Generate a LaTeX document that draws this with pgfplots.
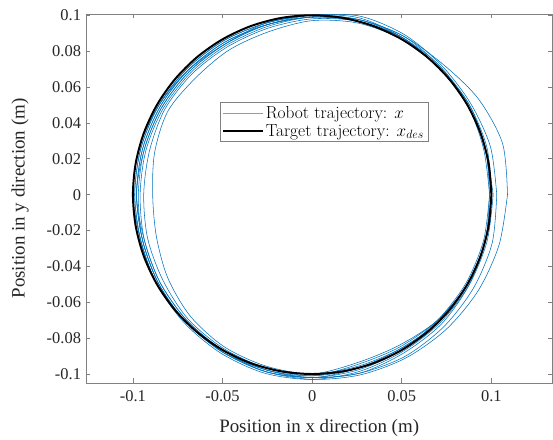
\documentclass[border=0pt]{standalone}
\usepackage{pgfplots}
\pgfplotsset{compat=1.18}
\usepgfplotslibrary{polar}
\usepackage{fontspec}
\newfontfamily\tnr{Liberation Serif}
\definecolor{mblue}{rgb}{0,0.447,0.741}
\definecolor{axgray}{rgb}{0.5,0.5,0.5}
\definecolor{txtgray}{rgb}{0.15,0.15,0.15}
\begin{document}
\begin{tikzpicture}
\begin{axis}[
  name=ax,
  scale only axis, width=466.3bp, height=369bp,
  xmin=-0.1262, xmax=0.134, ymin=-0.105, ymax=0.1007,
  xtick={-0.1,-0.05,0,0.05,0.1},
  xticklabels={-0.1,-0.05,0,0.05,0.1},
  ytick={-0.1,-0.08,-0.06,-0.04,-0.02,0,0.02,0.04,0.06,0.08,0.1},
  yticklabels={-0.1,-0.08,-0.06,-0.04,-0.02,0,0.02,0.04,0.06,0.08,0.1},
  tick align=inside, xtick pos=both, ytick pos=both,
  major tick length=4.5bp,
  axis line style={axgray, line width=0.6bp}, every tick/.style={axgray, line width=0.6bp},
  tick label style={font=\tnr\fontsize{16.5}{16.5}\selectfont, text=txtgray},
  xticklabel style={yshift=-4bp},
  yticklabel style={xshift=-1.5bp},
  label style={font=\tnr\fontsize{19}{19}\selectfont, text=txtgray},
  xlabel={Position in x direction (m)},
  ylabel={Position in y direction (m)},
  xlabel style={at={(axis description cs:0.5,-0.122)}, anchor=center},
  ylabel style={at={(axis description cs:-0.1413,0.5)}, anchor=center},
  legend style={at={(0.51,0.707)}, anchor=center, draw=axgray,
    font=\fontsize{17.5}{18}\selectfont, inner sep=2pt},
  legend cell align=left,
  legend image post style={xscale=2.35},
]
\addlegendimage{color=mblue!60, line width=0.9pt}
\addlegendentry{Robot trajectory: $x$}
\addlegendimage{color=black, line width=2pt}
\addlegendentry{Target trajectory: $x_{des}$}
% Robot trajectory loops (angle in degrees, radius in m)
\addplot[mblue, line width=0.55pt, smooth, data cs=polar, forget plot] coordinates {
(0,0.109)(15,0.110)(30,0.107)(45,0.103)(60,0.102)(75,0.101)(90,0.099)(105,0.098)(120,0.098)(135,0.098)(150,0.098)(165,0.098)(180,0.098)(195,0.098)(210,0.099)(225,0.100)(240,0.101)(255,0.102)(270,0.103)(285,0.104)(300,0.105)(315,0.106)(330,0.107)(345,0.108)(360,0.109)};
\addplot[mblue, line width=0.55pt, smooth, data cs=polar, forget plot] coordinates {
(0,0.103)(15,0.103)(30,0.102)(45,0.102)(60,0.103)(75,0.103)(90,0.100)(105,0.099)(120,0.099)(135,0.099)(150,0.099)(165,0.099)(180,0.099)(195,0.099)(210,0.100)(225,0.100)(240,0.101)(255,0.102)(270,0.102)(285,0.103)(300,0.104)(315,0.104)(330,0.104)(345,0.104)(360,0.103)};
\addplot[mblue, line width=0.55pt, smooth, data cs=polar, forget plot] coordinates {
(0,0.100)(15,0.100)(30,0.100)(45,0.100)(60,0.100)(75,0.099)(90,0.097)(105,0.094)(120,0.093)(135,0.092)(150,0.093)(165,0.091)(180,0.089)(195,0.090)(210,0.093)(225,0.096)(240,0.098)(255,0.099)(270,0.100)(285,0.099)(300,0.099)(315,0.100)(330,0.100)(345,0.100)(360,0.100)};
\addplot[mblue, line width=0.55pt, smooth, data cs=polar, forget plot] coordinates {
(0,0.100)(15,0.100)(30,0.100)(45,0.101)(60,0.101)(75,0.100)(90,0.098)(105,0.096)(120,0.095)(135,0.095)(150,0.095)(165,0.094)(180,0.094)(195,0.095)(210,0.096)(225,0.098)(240,0.099)(255,0.100)(270,0.101)(285,0.100)(300,0.100)(315,0.100)(330,0.100)(345,0.100)(360,0.100)};
\addplot[mblue, line width=0.55pt, smooth, data cs=polar, forget plot] coordinates {
(0,0.099)(15,0.099)(30,0.100)(45,0.100)(60,0.100)(75,0.100)(90,0.099)(105,0.097)(120,0.096)(135,0.096)(150,0.096)(165,0.096)(180,0.096)(195,0.097)(210,0.098)(225,0.099)(240,0.100)(255,0.102)(270,0.102)(285,0.101)(300,0.100)(315,0.099)(330,0.099)(345,0.099)(360,0.099)};
\addplot[mblue, line width=0.55pt, smooth, data cs=polar, forget plot] coordinates {
(0,0.100)(15,0.101)(30,0.101)(45,0.101)(60,0.102)(75,0.101)(90,0.099)(105,0.098)(120,0.097)(135,0.097)(150,0.097)(165,0.097)(180,0.097)(195,0.098)(210,0.099)(225,0.100)(240,0.101)(255,0.101)(270,0.101)(285,0.098)(300,0.098)(315,0.099)(330,0.100)(345,0.100)(360,0.100)};
\addplot[mblue, line width=0.55pt, smooth, data cs=polar, forget plot] coordinates {
(0,0.100)(15,0.100)(30,0.101)(45,0.100)(60,0.101)(75,0.102)(90,0.100)(105,0.098)(120,0.098)(135,0.098)(150,0.098)(165,0.098)(180,0.098)(195,0.098)(210,0.099)(225,0.100)(240,0.100)(255,0.100)(270,0.100)(285,0.097)(300,0.097)(315,0.099)(330,0.100)(345,0.100)(360,0.100)};
\addplot[mblue, line width=0.55pt, smooth, data cs=polar, forget plot] coordinates {
(0,0.101)(15,0.100)(30,0.100)(45,0.100)(60,0.100)(75,0.100)(90,0.100)(105,0.099)(120,0.099)(135,0.099)(150,0.099)(165,0.099)(180,0.099)(195,0.099)(210,0.100)(225,0.101)(240,0.102)(255,0.103)(270,0.103)(285,0.102)(300,0.101)(315,0.101)(330,0.101)(345,0.101)(360,0.101)};
\addplot[mblue, line width=0.55pt, smooth, data cs=polar, forget plot] coordinates {
(0,0.099)(15,0.100)(30,0.100)(45,0.100)(60,0.101)(75,0.100)(90,0.099)(105,0.098)(120,0.097)(135,0.098)(150,0.099)(165,0.100)(180,0.100)(195,0.099)(210,0.100)(225,0.100)(240,0.100)(255,0.101)(270,0.102)(285,0.103)(300,0.102)(315,0.102)(330,0.101)(345,0.100)(360,0.099)};
\addplot[mblue, line width=0.55pt, smooth, data cs=polar, forget plot] coordinates {
(0,0.100)(15,0.100)(30,0.100)(45,0.100)(60,0.101)(75,0.101)(90,0.100)(105,0.099)(120,0.097)(135,0.097)(150,0.097)(165,0.097)(180,0.098)(195,0.097)(210,0.098)(225,0.099)(240,0.100)(255,0.101)(270,0.102)(285,0.100)(300,0.099)(315,0.100)(330,0.100)(345,0.100)(360,0.100)};
% Target trajectory
\addplot[black, line width=2pt, smooth, data cs=polar, forget plot] coordinates {
(0,0.1)(10,0.1)(20,0.1)(30,0.1)(40,0.1)(50,0.1)(60,0.1)(70,0.1)(80,0.1)(90,0.1)(100,0.1)(110,0.1)(120,0.1)(130,0.1)(140,0.1)(150,0.1)(160,0.1)(170,0.1)(180,0.1)(190,0.1)(200,0.1)(210,0.1)(220,0.1)(230,0.1)(240,0.1)(250,0.1)(260,0.1)(270,0.1)(280,0.1)(290,0.1)(300,0.1)(310,0.1)(320,0.1)(330,0.1)(340,0.1)(350,0.1)(360,0.1)};
\end{axis}
\path[use as bounding box] ([xshift=-86bp,yshift=-56bp]ax.south west) rectangle ([xshift=0.7bp,yshift=14bp]ax.north east);
\end{tikzpicture}
\end{document}
